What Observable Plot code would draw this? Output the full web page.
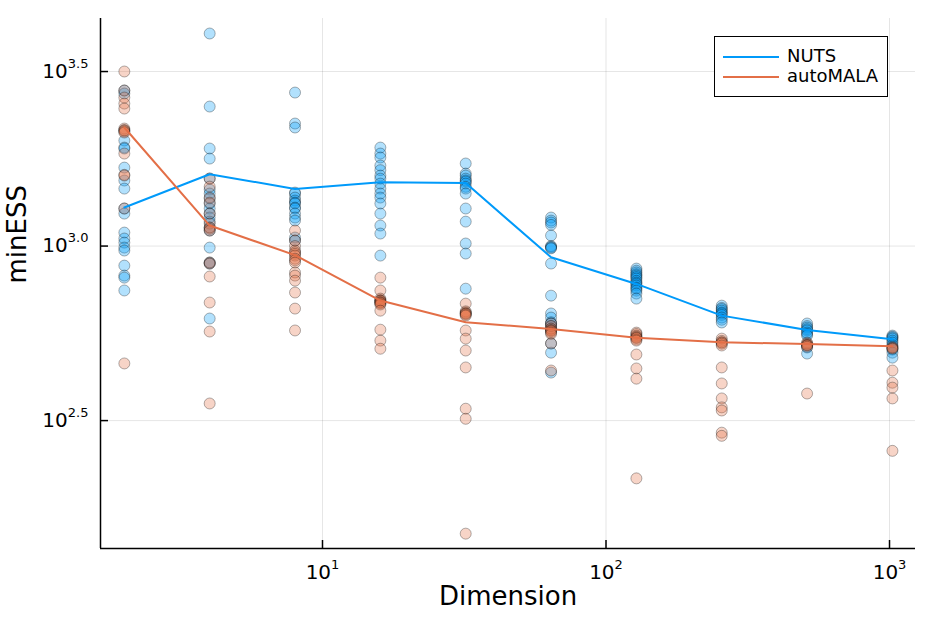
<!DOCTYPE html>
<html><head><meta charset="utf-8">
<script src="https://cdn.jsdelivr.net/npm/d3@7"></script>
<script src="https://cdn.jsdelivr.net/npm/@observablehq/plot@0.6"></script>
<style>
body{margin:0;background:#fff;font-family:"DejaVu Sans",sans-serif;}
#wrap{position:relative;width:934px;height:623px;}
#legend{position:absolute;left:714px;top:36px;width:172px;height:59px;border:1.5px solid #000;background:#fff;font-size:18px;color:#000;}
#legend .row{position:absolute;left:0;height:20px;width:100%;}
#legend .sw{position:absolute;left:8px;top:9px;width:56px;height:2px;}
#legend .lb{position:absolute;left:72px;top:-2px;line-height:22px;white-space:nowrap;}
</style></head><body><div id="wrap"></div>
<script>
const dims = [2,4,8,16,32,64,128,256,512,1024];
const samplers = ["NUTS","autoMALA"];
const colors = {NUTS:"#009AFA", autoMALA:"#E36F47"};
const xTicks = [10,100,1000];
const yTicks = [316.228,1000,3162.28];
const xDomain = [1.648,1235];
const yDomain = [136,4487];

const nutsPoints = [
 [2790,2735,2006,1915,1903,1678,1541,1461,1281,1239,1093,1051,1023,990,971,879,823,812,746],
 [4064,2510,1903,1781,1561,1452,1414,1368,1324,1281,1239,1207,1175,1130,1108,990,897,891,620],
 [2753,2244,2186,1423,1414,1377,1350,1332,1324,1289,1281,1239,1207,1183,1058,1037],
 [1915,1841,1793,1701,1650,1592,1560,1510,1461,1414,1377,1324,1239,1145,1086,939],
 [1724,1613,1592,1560,1541,1530,1510,1478,1461,1414,1281,1175,1017,952,755],
 [1207,1183,1168,1150,1072,1000,995,990,985,891,721,641,624,605,600,590,580,526,495,434],
 [862,850,840,830,823,815,807,795,786,780,771,760,755,745,731,707],
 [675,665,660,653,645,641,635,624,615,604],
 [600,590,584,578,573,565,560,554,512,492],
 [554,550,547,543,536,529,520,505,495,479]
];
const automalaPoints = [
 [3163,2790,2664,2560,2477,2171,2150,2143,2130,2115,1841,1600,1592,1281,461],
 [1561,1480,1377,1332,1239,1160,1130,1120,1108,897,891,818,689,569,354],
 [1108,1037,1000,971,960,950,939,920,910,897,840,823,796,736,662,573],
 [812,746,707,700,698,695,690,689,685,680,653,576,536,508],
 [684,650,645,641,640,636,632,573,543,502,449,342,320,150],
 [600,590,580,575,573,570,565,560,526,440],
 [565,560,554,550,547,545,540,536,489,446,417,216],
 [543,535,530,529,525,519,449,404,366,345,338,292,286],
 [529,525,522,520,519,515,378],
 [515,512,510,508,440,406,393,366,259]
];
const nutsLine = [1290,1606,1458,1524,1515,929,779,632,575,541];
const automalaLine = [2186,1145,942,698,605,579,546,530,524,516];

function flat(arr, name){ const out=[]; arr.forEach((vals,i)=>vals.forEach(v=>out.push({dim:dims[i], ess:v, sampler:name}))); return out; }
const nutsDots = flat(nutsPoints,"NUTS");
const malaDots = flat(automalaPoints,"autoMALA");
const nutsL = dims.map((d,i)=>({dim:d, ess:nutsLine[i]}));
const malaL = dims.map((d,i)=>({dim:d, ess:automalaLine[i]}));

const chart = Plot.plot({
  width:934, height:623,
  marginLeft:100, marginRight:19, marginTop:18, marginBottom:75,
  style:{fontFamily:"DejaVu Sans", fontSize:"20px", background:"#fff", color:"#000", overflow:"visible"},
  x:{type:"log", domain:xDomain},
  y:{type:"log", domain:yDomain},
  marks:[
    Plot.gridX(xTicks,{stroke:"#000", strokeOpacity:0.1, strokeWidth:1}),
    Plot.gridY(yTicks,{stroke:"#000", strokeOpacity:0.1, strokeWidth:1}),
    Plot.dot(nutsDots,{x:"dim", y:"ess", r:5.5, fill:colors.NUTS, fillOpacity:0.3, stroke:"#000", strokeOpacity:0.3, strokeWidth:1}),
    Plot.dot(malaDots,{x:"dim", y:"ess", r:5.5, fill:colors.autoMALA, fillOpacity:0.3, stroke:"#000", strokeOpacity:0.3, strokeWidth:1}),
    Plot.line(nutsL,{x:"dim", y:"ess", stroke:colors.NUTS, strokeWidth:2}),
    Plot.line(malaL,{x:"dim", y:"ess", stroke:colors.autoMALA, strokeWidth:2}),
    Plot.ruleX([xDomain[0]],{stroke:"#000", strokeWidth:1.5}),
    Plot.ruleY([yDomain[0]],{stroke:"#000", strokeWidth:1.5}),
    Plot.axisX(xTicks,{tickSize:-8, tickPadding:24, strokeWidth:1.5, label:null, fontSize:20,
      tickFormat:d=>"10^"+Math.round(Math.log10(d))}),
    Plot.axisY(yTicks,{tickSize:-8, tickPadding:20, strokeWidth:1.5, label:null, fontSize:20,
      tickFormat:d=>"10^"+Math.log10(d).toFixed(1)}),
    Plot.text(["Dimension"],{frameAnchor:"bottom", dy:56, fontSize:26}),
    Plot.text(["minESS"],{frameAnchor:"left", rotate:-90, dx:-83, fontSize:26})
  ]
});

d3.select(chart).selectAll("text").each(function(){
  const t = this.textContent;
  if(!t.startsWith("10^")) return;
  const parts = t.split("^");
  const sel = d3.select(this);
  sel.selectAll("*").remove();
  sel.text(null);
  sel.append("tspan").text(parts[0]);
  sel.append("tspan").attr("dy","-10px").attr("font-size","13px").text(parts[1]);
});

const wrap = document.getElementById("wrap");
wrap.appendChild(chart);
const lg = document.createElement("div");
lg.id="legend";
samplers.forEach((s,i)=>{
  const row=document.createElement("div"); row.className="row"; row.style.top=(10+i*20)+"px";
  const sw=document.createElement("div"); sw.className="sw"; sw.style.background=colors[s];
  const lb=document.createElement("div"); lb.className="lb"; lb.textContent=s;
  row.appendChild(sw); row.appendChild(lb); lg.appendChild(row);
});
wrap.appendChild(lg);
</script></body></html>
